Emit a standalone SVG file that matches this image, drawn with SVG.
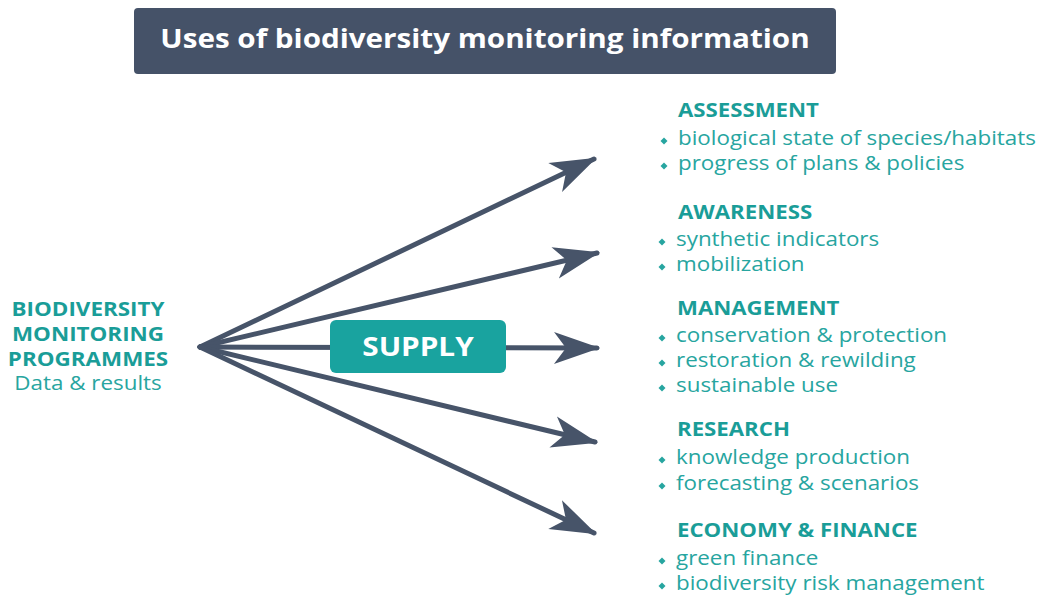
<svg xmlns="http://www.w3.org/2000/svg" width="1042" height="599" viewBox="0 0 1042 599">
<defs>
<style>
.t{font-family:"Open Sans","Noto Sans",sans-serif;}
.h{font-family:"Open Sans","Noto Sans",sans-serif;font-weight:700;font-size:19px;fill:#1a9d98;}
.b{font-family:"Open Sans","Noto Sans",sans-serif;font-size:20px;fill:#27a5a0;}
.d{fill:#27a5a0;}
.c{stroke:#475469;stroke-width:5;fill:none;stroke-linecap:round;}
</style>
<marker id="ah" viewBox="-46 -18 50 36" markerWidth="50" markerHeight="36" refX="0" refY="0" orient="auto" markerUnits="userSpaceOnUse">
<path d="M3,0 L-43,-16 L-31,0 L-43,16 Z" fill="#475469"/>
</marker>
<symbol id="dm" viewBox="-4 -4 8 8" width="8" height="8"><path d="M0,-3.5 L3.5,0 L0,3.5 L-3.5,0 Z" class="d"/></symbol>
</defs>
<rect width="1042" height="599" fill="#ffffff"/>
<g id="title">
<rect x="134" y="8" width="702" height="66" rx="4" fill="#455268"/>
<text x="485" y="48" class="t" font-size="26" font-weight="700" fill="#ffffff" text-anchor="middle" transform="matrix(1.14,0,0,1,-67.9,0)">Uses of biodiversity monitoring information</text>
</g>
<g id="connectors">
<line class="c" x1="200" y1="347" x2="594" y2="159" marker-end="url(#ah)"/>
<line class="c" x1="200" y1="347" x2="597" y2="253" marker-end="url(#ah)"/>
<line class="c" x1="200" y1="347" x2="597" y2="348" marker-end="url(#ah)"/>
<line class="c" x1="200" y1="347" x2="595" y2="442" marker-end="url(#ah)"/>
<line class="c" x1="200" y1="347" x2="594" y2="533" marker-end="url(#ah)"/>
</g>
<g id="supply">
<rect x="330" y="320" width="176" height="53" rx="6" fill="#19a39f"/>
<text x="418" y="356" class="t" font-size="27" font-weight="700" fill="#ffffff" text-anchor="middle" transform="matrix(1.1,0,0,1,-41.8,0)">SUPPLY</text>
</g>
<g id="source" text-anchor="middle">
<g transform="matrix(1.18,0,0,1,-15.84,0)">
<text x="88" y="316" class="h">BIODIVERSITY</text>
<text x="88" y="341" class="h">MONITORING</text>
<text x="88" y="366" class="h">PROGRAMMES</text>
</g>
<text x="88" y="390" class="b" transform="matrix(1.12,0,0,1,-10.56,0)">Data &amp; results</text>
</g>
<g id="assessment">
<use href="#dm" x="660" y="137"/><use href="#dm" x="660" y="162"/>
<text x="678" y="117" class="h" transform="matrix(1.17,0,0,1,-115.26,0)">ASSESSMENT</text>
<g transform="matrix(1.12,0,0,1,-81.36,0)">
<text x="678" y="145" class="b">biological state of species/habitats</text>
<text x="678" y="170" class="b">progress of plans &amp; policies</text>
</g>
</g>
<g id="awareness">
<use href="#dm" x="658" y="238"/><use href="#dm" x="658" y="263"/>
<text x="678" y="219" class="h" transform="matrix(1.17,0,0,1,-115.26,0)">AWARENESS</text>
<g transform="matrix(1.12,0,0,1,-81.12,0)">
<text x="676" y="246" class="b">synthetic indicators</text>
<text x="676" y="271" class="b">mobilization</text>
</g>
</g>
<g id="management">
<use href="#dm" x="658" y="334"/><use href="#dm" x="658" y="359"/><use href="#dm" x="658" y="384"/>
<text x="677" y="315" class="h" transform="matrix(1.17,0,0,1,-115.09,0)">MANAGEMENT</text>
<g transform="matrix(1.12,0,0,1,-81.12,0)">
<text x="676" y="342" class="b">conservation &amp; protection</text>
<text x="676" y="367" class="b">restoration &amp; rewilding</text>
<text x="676" y="392" class="b">sustainable use</text>
</g>
</g>
<g id="research">
<use href="#dm" x="658" y="456"/><use href="#dm" x="658" y="482"/>
<text x="677" y="436" class="h" transform="matrix(1.17,0,0,1,-115.09,0)">RESEARCH</text>
<g transform="matrix(1.12,0,0,1,-81.12,0)">
<text x="676" y="464" class="b">knowledge production</text>
<text x="676" y="490" class="b">forecasting &amp; scenarios</text>
</g>
</g>
<g id="economy">
<use href="#dm" x="658" y="557"/><use href="#dm" x="658" y="582"/>
<text x="677" y="537" class="h" transform="matrix(1.17,0,0,1,-115.09,0)">ECONOMY &amp; FINANCE</text>
<g transform="matrix(1.12,0,0,1,-81.12,0)">
<text x="676" y="565" class="b">green finance</text>
<text x="676" y="590" class="b">biodiversity risk management</text>
</g>
</g>
</svg>
